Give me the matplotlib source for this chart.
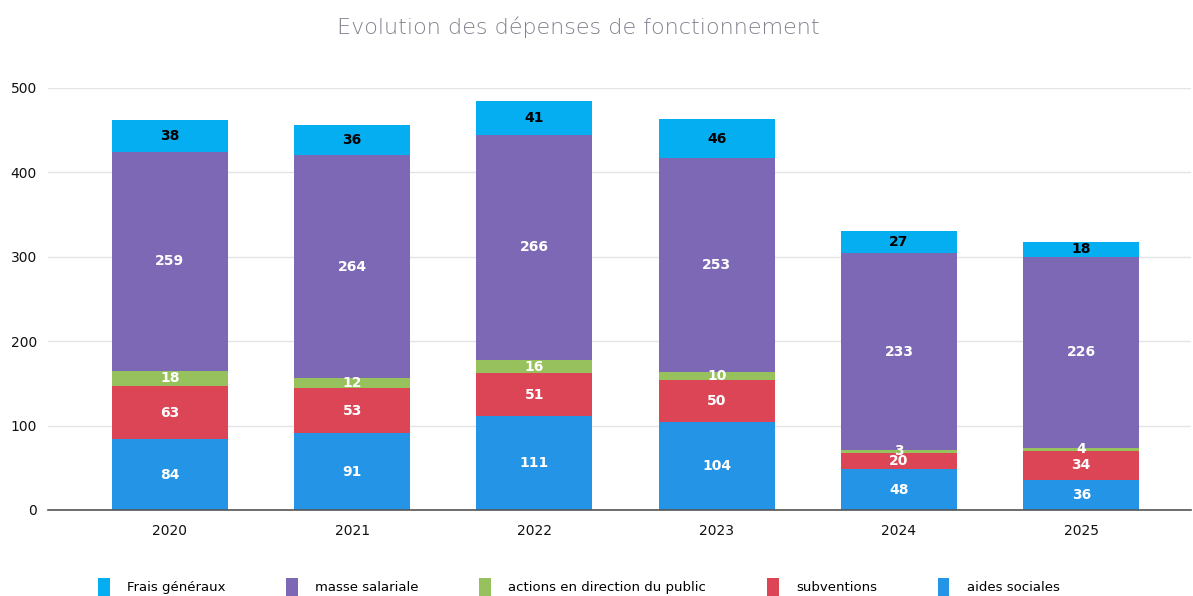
import matplotlib.pyplot as plt
import numpy as np

years = ["2020", "2021", "2022", "2023", "2024", "2025"]
aides_sociales = [84, 91, 111, 104, 48, 36]
subventions = [63, 53, 51, 50, 20, 34]
actions_public = [18, 12, 16, 10, 3, 4]
masse_salariale = [259, 264, 266, 253, 233, 226]
frais_generaux = [38, 36, 41, 46, 27, 18]

series = [
    ("aides sociales", aides_sociales, "#2394e6", "white"),
    ("subventions", subventions, "#dc4556", "white"),
    ("actions en direction du public", actions_public, "#97c15c", "white"),
    ("masse salariale", masse_salariale, "#7d68b5", "white"),
    ("Frais généraux", frais_generaux, "#04aef0", "black"),
]

fig = plt.figure(figsize=(11.93, 5.96), dpi=100)
ax = fig.add_axes([0.0402, 0.1443, 0.9578, 0.7081])

x = np.arange(len(years))
width = 0.636
bottom = np.zeros(len(years))
handles = {}
for name, vals, color, tcolor in series:
    vals = np.array(vals, dtype=float)
    bars = ax.bar(x, vals, width, bottom=bottom, color=color, zorder=2)
    handles[name] = bars
    for xi, b, v in zip(x, bottom, vals):
        ax.text(xi, b + v / 2, f"{int(v)}", ha="center", va="center",
                color=tcolor, fontsize=10, fontweight="bold", zorder=3)
    bottom += vals

ax.set_xlim(-0.669, 5.6)
ax.set_ylim(0, 500)
ax.set_yticks([0, 100, 200, 300, 400, 500])
ax.set_xticks(x)
ax.set_xticklabels(years)
ax.tick_params(axis="both", length=0, labelsize=10, colors="#111111")
ax.tick_params(axis="y", pad=8)
ax.tick_params(axis="x", pad=10)
ax.grid(axis="y", color="#e4e4e8", linewidth=1, zorder=0)
for side in ["top", "right", "left"]:
    ax.spines[side].set_visible(False)
ax.spines["bottom"].set_color("#555555")
ax.spines["bottom"].set_linewidth(1.2)

fig.text(0.485, 0.955, "Evolution des dépenses de fonctionnement", ha="center",
         va="center", fontsize=16, color="#80808e", fontweight="light")

legend_order = ["Frais généraux", "masse salariale", "actions en direction du public",
                "subventions", "aides sociales"]
fig.legend([handles[n] for n in legend_order], legend_order, loc="center",
           bbox_to_anchor=(0.485, 0.015), ncol=5, frameon=False, fontsize=9.5,
           handlelength=0.9, handleheight=1.8, columnspacing=4.6, handletextpad=1.3)

fig.savefig("out.png", dpi=100)
